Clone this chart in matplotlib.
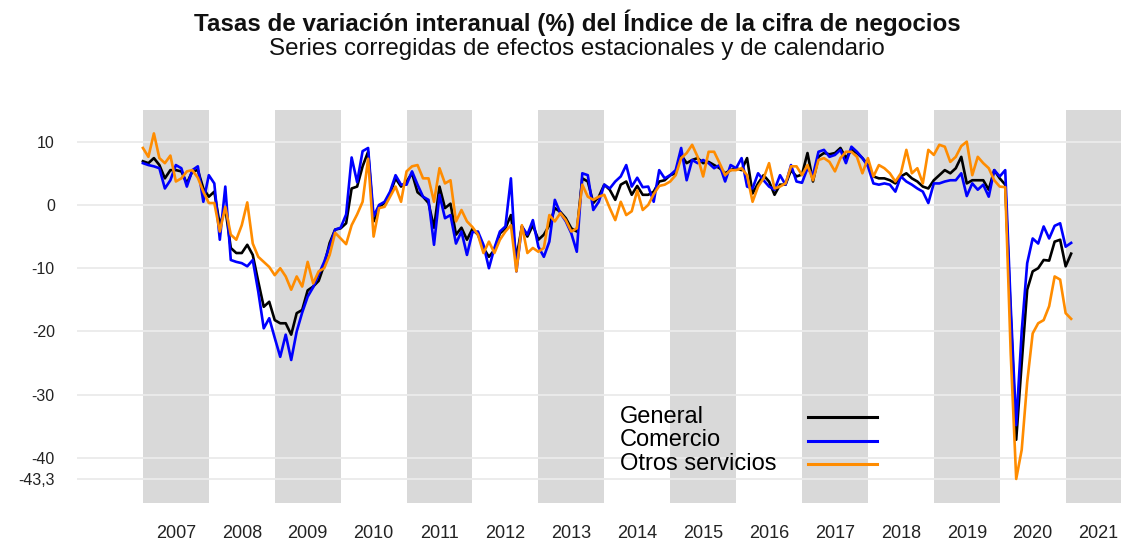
import numpy as np
import matplotlib
matplotlib.use('Agg')
import matplotlib.pyplot as plt
from matplotlib.lines import Line2D

plt.rcParams['font.family'] = ['Liberation Sans', 'DejaVu Sans']

# monthly series, Jan 2007 - Feb 2021
general = [
    6.9, 6.6, 7.4, 6.3, 4.2, 5.5, 5.5, 5.3, 3.4, 5.3, 5.5, 2.6,
    1.3, 2.1, -3.2, -0.5, -6.8, -7.6, -7.6, -6.3, -7.9, -12.1, -16.1, -15.3,
    -18.2, -18.7, -18.7, -20.5, -17.1, -16.6, -13.5, -12.9, -12.0, -9.5, -6.0, -3.9,
    -3.7, -2.9, 2.6, 2.9, 6.1, 8.4, -2.6, -0.3, 0.3, 1.8, 4.2, 2.9,
    3.7, 5.0, 2.0, 1.3, 0.3, -3.6, 2.9, -0.5, 0.2, -4.7, -3.6, -5.5,
    -3.8, -4.7, -6.8, -8.2, -7.1, -4.5, -3.7, -1.6, -8.4, -3.4, -5.0, -3.2,
    -5.5, -4.7, -3.2, -0.5, -1.1, -2.1, -3.7, -4.2, 4.2, 3.7, 0.3, 1.3,
    3.2, 2.4, 0.8, 3.2, 3.7, 1.6, 3.0, 1.6, 1.6, 2.1, 3.7, 3.9,
    4.7, 5.0, 7.9, 6.6, 7.1, 7.4, 6.6, 6.8, 6.3, 5.8, 5.0, 5.5,
    5.8, 5.5, 7.4, 1.8, 3.4, 4.7, 3.7, 1.6, 3.2, 3.2, 5.5, 4.5,
    4.8, 8.2, 3.7, 7.6, 8.2, 8.0, 8.2, 9.0, 7.4, 8.7, 8.2, 7.4,
    6.3, 4.5, 4.2, 4.2, 3.9, 3.4, 4.5, 5.0, 4.2, 3.7, 2.9, 2.6,
    3.9, 4.7, 5.5, 5.0, 5.8, 7.6, 3.4, 3.9, 3.9, 3.9, 2.4, 5.5,
    4.2, 3.2, -17.5, -37.1, -25.0, -13.4, -10.5, -10.0, -8.7, -8.8, -5.8, -5.5,
    -9.7, -7.7,
]
comercio = [
    6.6, 6.3, 6.1, 5.8, 2.6, 3.9, 6.3, 5.8, 2.9, 5.5, 6.1, 0.5,
    4.7, 3.4, -5.5, 2.9, -8.7, -9.0, -9.2, -9.7, -8.7, -13.7, -19.5, -17.9,
    -21.0, -24.0, -20.5, -24.5, -20.0, -17.0, -14.5, -13.0, -11.0, -9.0, -6.5, -3.9,
    -3.6, -1.5, 7.5, 3.6, 8.5, 9.0, -1.8, 0.0, 0.5, 2.1, 4.7, 3.2,
    3.2, 5.3, 3.2, 1.3, 0.8, -6.3, 1.6, -2.1, -1.6, -6.1, -4.2, -7.9,
    -4.3, -4.2, -6.3, -10.0, -6.8, -4.2, -3.4, 4.2, -10.5, -3.4, -4.7, -2.4,
    -6.6, -8.2, -5.8, 0.8, -1.3, -2.6, -4.5, -7.4, 5.0, 4.7, -0.8, 0.5,
    3.2, 2.6, 3.7, 4.5, 6.3, 2.9, 4.3, 2.8, 2.9, 0.5, 5.5, 4.2,
    4.7, 5.5, 9.0, 3.9, 7.1, 6.6, 7.1, 6.6, 5.8, 6.3, 3.7, 6.3,
    5.8, 7.4, 2.9, 2.6, 5.0, 3.9, 2.9, 2.4, 4.7, 3.2, 6.3, 3.7,
    3.5, 5.8, 4.7, 8.4, 8.7, 7.6, 7.9, 8.7, 6.6, 9.2, 8.4, 7.4,
    6.1, 3.4, 3.2, 3.4, 3.2, 2.1, 4.5, 3.7, 3.2, 2.6, 2.1, 0.3,
    3.4, 3.4, 3.7, 3.9, 3.9, 5.0, 1.4, 3.4, 2.4, 3.2, 1.3, 5.5,
    4.5, 5.5, -16.0, -34.8, -20.0, -9.2, -5.3, -6.1, -3.4, -5.3, -3.3, -2.9,
    -6.6, -6.0,
]
otros = [
    9.0, 7.6, 11.3, 7.4, 6.6, 7.8, 3.7, 4.2, 5.3, 5.5, 4.3, 2.1,
    0.3, 0.3, -4.2, -0.3, -4.7, -5.5, -3.2, 0.4, -6.1, -8.2, -9.0, -9.8,
    -11.1, -10.0, -11.3, -13.4, -11.3, -12.9, -9.0, -12.4, -10.5, -10.0, -7.9, -4.4,
    -5.3, -6.2, -3.2, -1.5, 0.5, 7.3, -5.0, -0.5, -0.3, 1.3, 2.9, 0.5,
    5.3, 6.1, 6.3, 4.2, 4.2, 0.5, 5.8, 3.4, 3.9, -2.6, -0.8, -2.6,
    -3.5, -4.7, -7.6, -5.8, -7.6, -5.5, -4.2, -3.2, -10.5, -3.2, -7.6, -6.8,
    -7.4, -6.8, -1.6, -2.6, -1.3, -2.4, -4.2, -3.7, 3.2, 1.3, 0.8, 1.3,
    1.6, -0.5, -2.4, 0.5, -1.6, -1.0, 2.3, -0.8, 0.0, 1.7, 3.0, 3.2,
    3.7, 4.7, 7.4, 8.2, 9.5, 7.6, 4.5, 8.4, 8.4, 6.6, 4.7, 5.5,
    5.5, 5.8, 4.7, 0.5, 2.9, 4.2, 6.6, 2.6, 2.9, 3.4, 6.1, 6.1,
    4.7, 6.3, 3.9, 7.1, 7.4, 6.8, 5.3, 7.4, 8.4, 8.4, 7.6, 5.0,
    7.4, 4.5, 6.3, 5.8, 5.0, 3.7, 5.0, 8.7, 5.0, 5.8, 3.4, 8.7,
    7.9, 9.5, 9.2, 6.8, 7.6, 9.3, 10.0, 4.7, 7.6, 6.6, 5.8, 3.9,
    2.9, 2.8, -23.5, -43.3, -38.7, -28.0, -20.3, -18.7, -18.2, -16.0, -11.3, -11.8,
    -17.1, -18.0,
]

years = list(range(2007, 2022))
shaded_years = [2007, 2009, 2011, 2013, 2015, 2017, 2019, 2021]
ytick_vals = [10, 0, -10, -20, -30, -40, -43.3]
ytick_labels = ['10', '0', '-10', '-20', '-30', '-40', '-43,3']

series = [('General', general, 'black'),
          ('Comercio', comercio, '#0000ff'),
          ('Otros servicios', otros, '#ff8c00')]

t = 2007 + np.arange(len(general)) / 12.0

W, H = 1121, 543
fig = plt.figure(figsize=(W / 100, H / 100), dpi=100)
ax = fig.add_axes([77 / W, 1 - 503 / H, 1 - 77 / W, (503 - 110) / H])

for y in shaded_years:
    ax.axvspan(y, y + 1, color='#d9d9d9', lw=0, zorder=0)
for v in ytick_vals:
    ax.axhline(v, color='#ebebeb', lw=1.3, zorder=1)

for name, vals, col in series:
    ax.plot(t, vals, color=col, lw=1.9, zorder=3)

ax.set_xlim(2006, 2021.84)
ax.set_ylim(-47.1, 15)
ax.set_xticks([y + 0.5 for y in years])
ax.set_xticklabels([str(y) for y in years])
ax.set_yticks(ytick_vals)
ax.set_yticklabels(ytick_labels)
ax.tick_params(axis='both', length=0, labelcolor='#222222')
ax.tick_params(axis='y', pad=16, labelsize=11.5)
ax.tick_params(axis='x', pad=16, labelsize=13)
for s in ax.spines.values():
    s.set_visible(False)

# legend: labels left-aligned, key lines to the right
for k, (name, vals, col) in enumerate(series):
    ypix = 417 + k * 23.5
    fig.text(620 / W, 1 - ypix / H, name, ha='left', va='center',
             fontsize=17, color='black')
    fig.add_artist(Line2D([808 / W, 877 / W], [1 - ypix / H, 1 - ypix / H],
                          color=col, lw=2.2, transform=fig.transFigure))

fig.text(577 / W, 1 - 23 / H, 'Tasas de variación interanual (%) del Índice de la cifra de negocios',
         ha='center', va='center', fontsize=17.4, fontweight='bold', color='#111111')
fig.text(577 / W, 1 - 49 / H, 'Series corregidas de efectos estacionales y de calendario',
         ha='center', va='center', fontsize=17.4, color='#111111')

fig.savefig('out.png', dpi=100)
